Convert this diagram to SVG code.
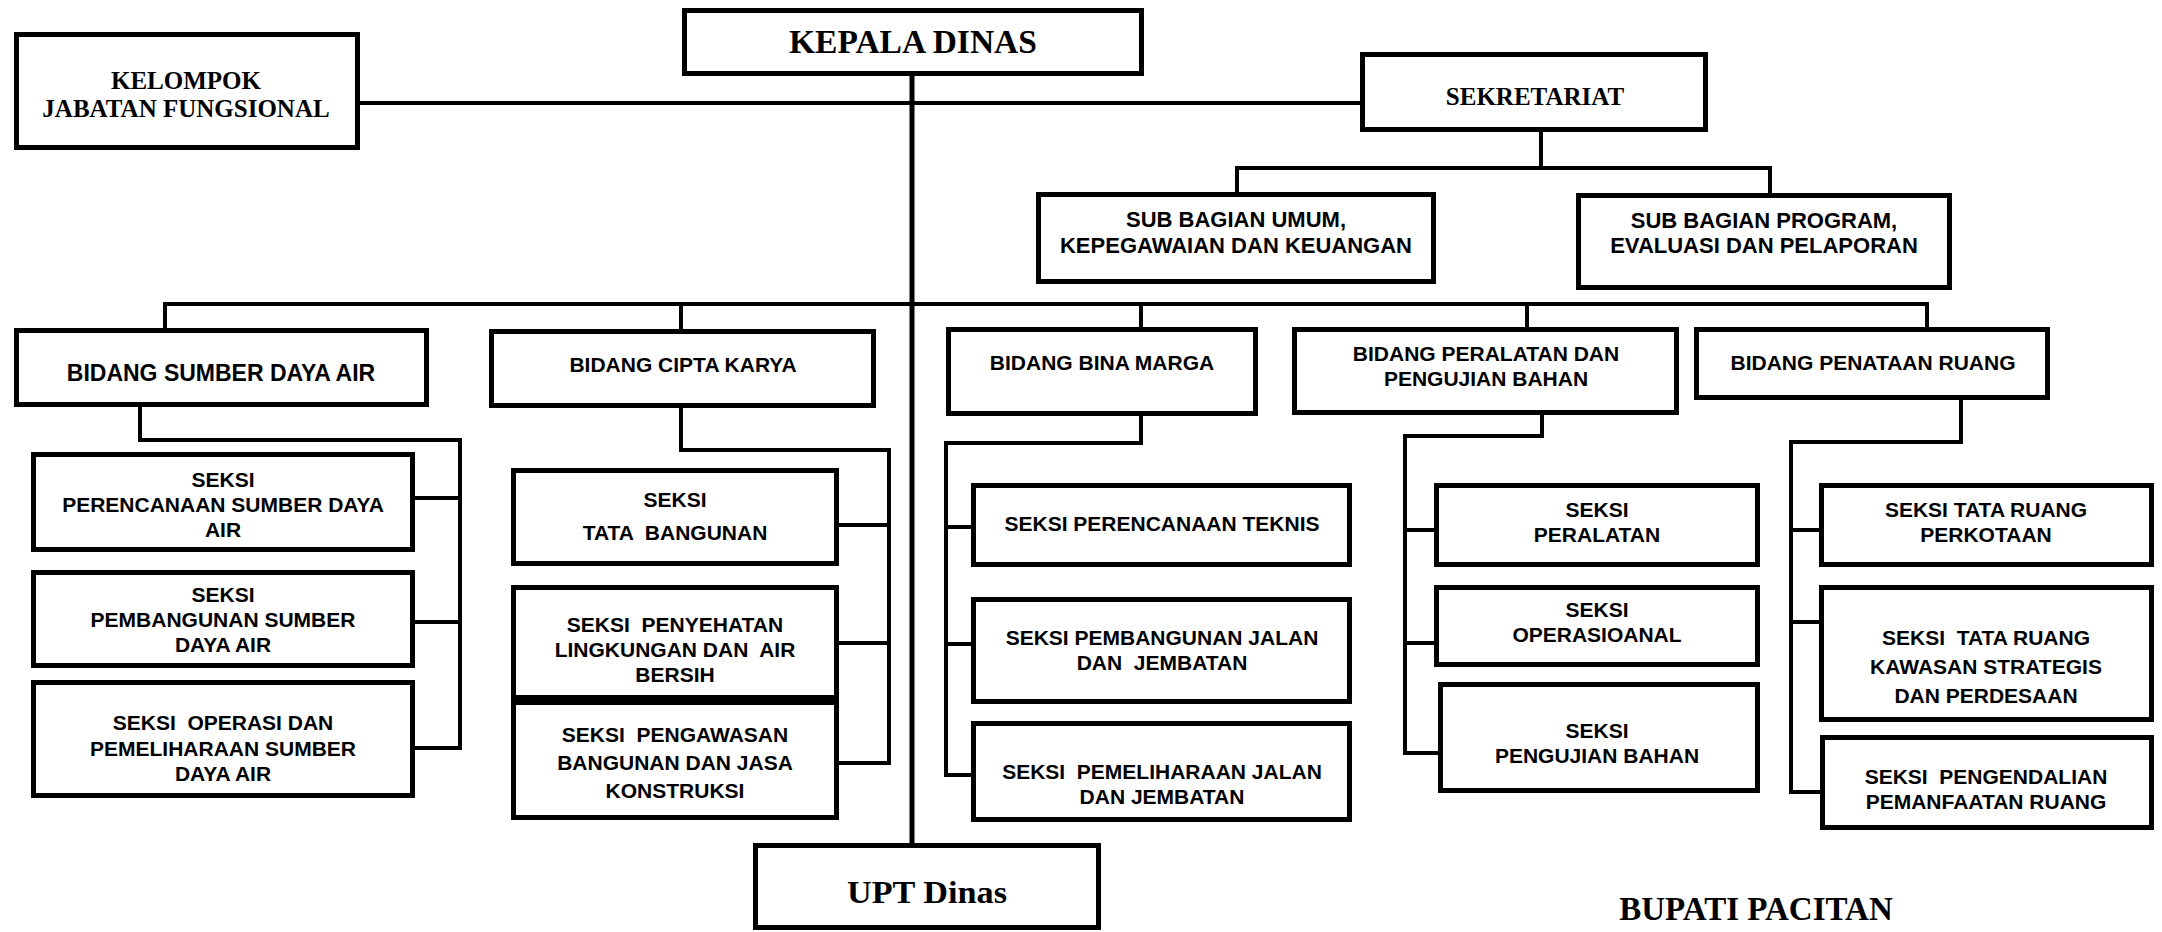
<svg xmlns="http://www.w3.org/2000/svg" width="2162" height="932" viewBox="0 0 2162 932">
<style>
.bx{fill:#fff;stroke:#000;stroke-width:5}
.cn{fill:none;stroke:#000;stroke-width:4;stroke-linecap:square}
.tr{fill:none;stroke:#000;stroke-width:5}
.s{font-family:"Liberation Sans",Arial,sans-serif;font-weight:bold;font-size:21px;text-anchor:middle;fill:#000;white-space:pre}
.sb{font-size:22px}
.sl{font-size:23px}
.r{font-family:"Liberation Serif","Times New Roman",serif;font-weight:bold;text-anchor:middle;fill:#000}
</style>
<rect width="2162" height="932" fill="#fff"/>
<g id="connectors">
<path class="cn" d="M360 103H1360"/>
<path class="tr" d="M912 76V843"/>
<path class="cn" d="M1541 132V168M1237 192V168H1770V193"/>
<path class="cn" d="M165 304H1927M165 304V328M681 304V329M1141 304V327M1527 304V327M1927 304V327"/>
<path class="cn" d="M140 407V440H460V748H415M415 498H460M415 622H460"/>
<path class="cn" d="M681 408V450H889V763H839M839 525H889M839 643H889"/>
<path class="cn" d="M1141 416V443H946V775H971M946 527H971M946 644H971"/>
<path class="cn" d="M1542 415V436H1405V753H1438M1405 530H1434M1405 643H1434"/>
<path class="cn" d="M1961 400V442H1791V792H1820M1791 530H1819M1791 622H1819"/>
</g>
<g id="kelompok"><rect class="bx" x="16.5" y="34.5" width="341" height="113"/>
<text class="r" font-size="25" x="186" y="89">KELOMPOK</text><text class="r" font-size="25" x="186" y="117">JABATAN FUNGSIONAL</text></g>
<g id="kepala"><rect class="bx" x="684.5" y="10.5" width="457" height="63"/>
<text class="r" font-size="33.5" x="913" y="53">KEPALA DINAS</text></g>
<g id="sekretariat"><rect class="bx" x="1362.5" y="54.5" width="343" height="75"/>
<text class="r" font-size="25" x="1535" y="105">SEKRETARIAT</text></g>
<g id="sub-umum"><rect class="bx" x="1038.5" y="194.5" width="395" height="87"/>
<text class="s sb" x="1236" y="227">SUB BAGIAN UMUM,</text><text class="s sb" x="1236" y="253">KEPEGAWAIAN DAN KEUANGAN</text></g>
<g id="sub-program"><rect class="bx" x="1578.5" y="195.5" width="371" height="92"/>
<text class="s sb" x="1764" y="228">SUB BAGIAN PROGRAM,</text><text class="s sb" x="1764" y="253">EVALUASI DAN PELAPORAN</text></g>
<g id="bidang-sda"><rect class="bx" x="16.5" y="330.5" width="410" height="74"/>
<text class="s sl" x="221" y="381">BIDANG SUMBER DAYA AIR</text></g>
<g id="bidang-cipta"><rect class="bx" x="491.5" y="331.5" width="382" height="74"/>
<text class="s" x="683" y="372">BIDANG CIPTA KARYA</text></g>
<g id="bidang-bina"><rect class="bx" x="948.5" y="329.5" width="307" height="84"/>
<text class="s" x="1102" y="370">BIDANG BINA MARGA</text></g>
<g id="bidang-peralatan"><rect class="bx" x="1294.5" y="329.5" width="382" height="83"/>
<text class="s" x="1486" y="361">BIDANG PERALATAN DAN</text><text class="s" x="1486" y="386">PENGUJIAN BAHAN</text></g>
<g id="bidang-penataan"><rect class="bx" x="1696.5" y="329.5" width="351" height="68"/>
<text class="s" x="1873" y="370">BIDANG PENATAAN RUANG</text></g>
<g id="sda-1"><rect class="bx" x="33.5" y="454.5" width="379" height="95"/>
<text class="s" x="223" y="487">SEKSI</text><text class="s" x="223" y="512">PERENCANAAN SUMBER DAYA</text><text class="s" x="223" y="537">AIR</text></g>
<g id="sda-2"><rect class="bx" x="33.5" y="572.5" width="379" height="93"/>
<text class="s" x="223" y="602">SEKSI</text><text class="s" x="223" y="627">PEMBANGUNAN SUMBER</text><text class="s" x="223" y="652">DAYA AIR</text></g>
<g id="sda-3"><rect class="bx" x="33.5" y="682.5" width="379" height="113"/>
<text class="s" x="223" y="730">SEKSI  OPERASI DAN</text><text class="s" x="223" y="756">PEMELIHARAAN SUMBER</text><text class="s" x="223" y="781">DAYA AIR</text></g>
<g id="cipta-1"><rect class="bx" x="513.5" y="470.5" width="323" height="93"/>
<text class="s" x="675" y="507">SEKSI</text><text class="s" x="675" y="540">TATA  BANGUNAN</text></g>
<g id="cipta-2"><rect class="bx" x="513.5" y="587.5" width="323" height="110"/>
<text class="s" x="675" y="632">SEKSI  PENYEHATAN</text><text class="s" x="675" y="657">LINGKUNGAN DAN  AIR</text><text class="s" x="675" y="682">BERSIH</text></g>
<g id="cipta-3"><rect class="bx" x="513.5" y="702.5" width="323" height="115"/>
<text class="s" x="675" y="742">SEKSI  PENGAWASAN</text><text class="s" x="675" y="770">BANGUNAN DAN JASA</text><text class="s" x="675" y="798">KONSTRUKSI</text></g>
<g id="bina-1"><rect class="bx" x="973.5" y="485.5" width="376" height="79"/>
<text class="s" x="1162" y="531">SEKSI PERENCANAAN TEKNIS</text></g>
<g id="bina-2"><rect class="bx" x="973.5" y="599.5" width="376" height="102"/>
<text class="s" x="1162" y="645">SEKSI PEMBANGUNAN JALAN</text><text class="s" x="1162" y="670">DAN  JEMBATAN</text></g>
<g id="bina-3"><rect class="bx" x="973.5" y="723.5" width="376" height="96"/>
<text class="s" x="1162" y="779">SEKSI  PEMELIHARAAN JALAN</text><text class="s" x="1162" y="804">DAN JEMBATAN</text></g>
<g id="peralatan-1"><rect class="bx" x="1436.5" y="485.5" width="321" height="79"/>
<text class="s" x="1597" y="517">SEKSI</text><text class="s" x="1597" y="542">PERALATAN</text></g>
<g id="peralatan-2"><rect class="bx" x="1436.5" y="587.5" width="321" height="77"/>
<text class="s" x="1597" y="617">SEKSI</text><text class="s" x="1597" y="642">OPERASIOANAL</text></g>
<g id="peralatan-3"><rect class="bx" x="1440.5" y="684.5" width="317" height="106"/>
<text class="s" x="1597" y="738">SEKSI</text><text class="s" x="1597" y="763">PENGUJIAN BAHAN</text></g>
<g id="penataan-1"><rect class="bx" x="1821.5" y="485.5" width="330" height="79"/>
<text class="s" x="1986" y="517">SEKSI TATA RUANG</text><text class="s" x="1986" y="542">PERKOTAAN</text></g>
<g id="penataan-2"><rect class="bx" x="1821.5" y="587.5" width="330" height="132"/>
<text class="s" x="1986" y="645">SEKSI  TATA RUANG</text><text class="s" x="1986" y="674">KAWASAN STRATEGIS</text><text class="s" x="1986" y="703">DAN PERDESAAN</text></g>
<g id="penataan-3"><rect class="bx" x="1822.5" y="737.5" width="329" height="90"/>
<text class="s" x="1986" y="784">SEKSI  PENGENDALIAN</text><text class="s" x="1986" y="809">PEMANFAATAN RUANG</text></g>
<g id="upt"><rect class="bx" x="755.5" y="845.5" width="343" height="82"/>
<text class="r" font-size="32" x="927" y="903" textLength="160" lengthAdjust="spacingAndGlyphs">UPT Dinas</text></g>
<g id="bupati"><text class="r" font-size="33" x="1756" y="920">BUPATI PACITAN</text></g>
</svg>
